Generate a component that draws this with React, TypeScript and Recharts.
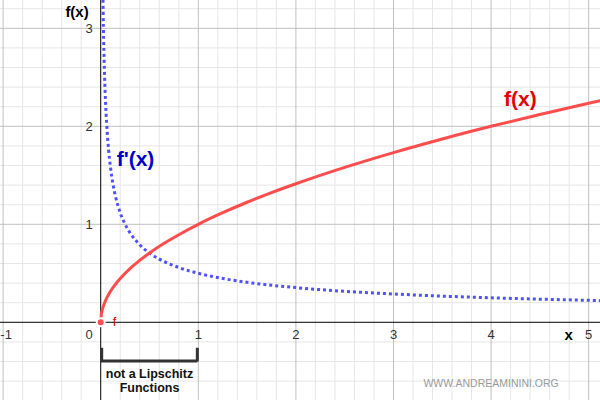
import React from 'react';
import { LineChart, Line, XAxis, YAxis, ReferenceLine, ReferenceDot, ReferenceArea } from 'recharts';

// f(x)
const fX = [0, 0.005, 0.01, 0.02, 0.04, 0.07, 0.1, 0.15, 0.2, 0.3, 0.4, 0.5, 0.65, 0.8, 1, 1.25, 1.5, 1.75, 2, 2.5, 3, 3.5, 4, 4.5, 5, 5.2];
const fY = [0, 0.071, 0.1, 0.141, 0.2, 0.265, 0.316, 0.387, 0.447, 0.548, 0.632, 0.707, 0.806, 0.894, 1, 1.118, 1.225, 1.323, 1.414, 1.581, 1.732, 1.871, 2, 2.121, 2.236, 2.28];

// f'(x)
const dX = [0.02, 0.025, 0.03, 0.035, 0.04, 0.05, 0.06, 0.07, 0.08, 0.1, 0.125, 0.15, 0.2, 0.25, 0.3, 0.4, 0.5, 0.6, 0.8, 1, 1.25, 1.5, 2, 2.5, 3, 3.5, 4, 4.5, 5, 5.2];
const dY = [3.536, 3.162, 2.887, 2.673, 2.5, 2.236, 2.041, 1.89, 1.768, 1.581, 1.414, 1.291, 1.118, 1.0, 0.913, 0.791, 0.707, 0.645, 0.559, 0.5, 0.447, 0.408, 0.354, 0.316, 0.289, 0.267, 0.25, 0.236, 0.224, 0.219];

const xTickLabels = [-1, 1, 2, 3, 4, 5];
const yTickLabels = [1, 2, 3];
const xDomain = [-1.032, 5.116];
const yDomain = [-0.793, 3.289];

const fData = fX.map((x, i) => ({ x, y: fY[i] }));
const dData = dX.map((x, i) => ({ x, y: dY[i] }));

const minorX: number[] = [];
for (let i = -5; i <= 26; i++) if (i % 5 !== 0) minorX.push(Math.round(i * 20) / 100);
const minorY: number[] = [];
for (let i = -4; i <= 17; i++) if (i % 5 !== 0) minorY.push(Math.round(i * 20) / 100);
const majorX = [-1, 1, 2, 3, 4, 5];
const majorY = [1, 2, 3];

const FONT = '"Liberation Sans", Arial, sans-serif';

type TOpts = { dx?: number; dy?: number; anchor?: 'start' | 'middle' | 'end'; size?: number; weight?: string | number; fill?: string };
const textLabel = (s: string, o: TOpts) => ({
  content: (p: any) => {
    const vb = p.viewBox || {};
    const cx = (vb.x ?? 0) + (vb.width ?? 0) / 2;
    const cy = (vb.y ?? 0) + (vb.height ?? 0) / 2;
    return (
      <text
        x={cx + (o.dx ?? 0)}
        y={cy + (o.dy ?? 0)}
        textAnchor={o.anchor ?? 'middle'}
        fontSize={o.size ?? 13}
        fontWeight={o.weight ?? 'normal'}
        fill={o.fill ?? '#333'}
        fontFamily={FONT}
      >
        {s}
      </text>
    );
  },
});

const TextAt = (x: number, y: number, s: string, o: TOpts, key: string) => (
  <ReferenceDot key={key} x={x} y={y} r={1} fill="none" stroke="none" ifOverflow="visible" label={textLabel(s, o)} />
);

export default function App() {
  return (
    <div style={{ position: 'absolute', left: 0, top: 0, width: 600, height: 400, background: '#fff', fontFamily: FONT }}>
      <LineChart width={600} height={400} margin={{ top: 0, right: 0, bottom: 0, left: 0 }}>
        <XAxis type="number" dataKey="x" domain={xDomain} allowDataOverflow hide />
        <YAxis type="number" dataKey="y" domain={yDomain} allowDataOverflow hide />
        {minorX.map((v) => (
          <ReferenceLine key={'mx' + v} x={v} stroke="#e6e6e6" strokeWidth={1} />
        ))}
        {minorY.map((v) => (
          <ReferenceLine key={'my' + v} y={v} stroke="#e6e6e6" strokeWidth={1} />
        ))}
        {majorX.map((v) => (
          <ReferenceLine key={'Mx' + v} x={v} stroke="#c0c0c0" strokeWidth={1} />
        ))}
        {majorY.map((v) => (
          <ReferenceLine key={'My' + v} y={v} stroke="#c0c0c0" strokeWidth={1} />
        ))}
        <ReferenceArea x1={0} x2={0.98} y1={-0.41} y2={-0.8} fill="#fff" fillOpacity={1} stroke="none" ifOverflow="hidden" />
        <ReferenceLine x={0} stroke="#000" strokeWidth={1} />
        <ReferenceLine y={0} stroke="#000" strokeWidth={1} />

        <Line data={dData} dataKey="y" type="monotone" stroke="#5050ff" strokeWidth={3} strokeDasharray="3 3" dot={false} isAnimationActive={false} />
        <Line data={fData} dataKey="y" type="monotone" stroke="#ff4d4d" strokeWidth={3} dot={false} isAnimationActive={false} />

        {/* bracket */}
        <ReferenceLine segment={[{ x: 0.01, y: -0.26 }, { x: 0.01, y: -0.4 }]} stroke="#333" strokeWidth={3} />
        <ReferenceLine segment={[{ x: 0, y: -0.395 }, { x: 0.99, y: -0.395 }]} stroke="#333" strokeWidth={3} />
        <ReferenceLine segment={[{ x: 0.99, y: -0.26 }, { x: 0.99, y: -0.4 }]} stroke="#333" strokeWidth={3} />

        {xTickLabels.map((v) => TextAt(v, 0, String(v), { dy: 17, dx: v === -1 ? 3 : 0 }, 'xt' + v))}
        {TextAt(0, 0, '0', { dy: 17, dx: -8, anchor: 'end' }, 'xt0')}
        {yTickLabels.map((v) => TextAt(0, v, String(v), { dy: 4.5, dx: -8, anchor: 'end' }, 'yt' + v))}

        {TextAt(0, 3.289, 'f(x)', { dx: -12, dy: 17, anchor: 'end', size: 15, weight: 'bold', fill: '#000' }, 'ylab')}
        {TextAt(5, 0, 'x', { dx: -20, dy: 18, anchor: 'middle', size: 15, weight: 'bold', fill: '#000' }, 'xlab')}
        {TextAt(0, 0, 'f', { dx: 12, dy: 4, anchor: 'start', size: 13, fill: '#e00000' }, 'fsmall')}
        {TextAt(0, 2, "f'(x)", { dx: 16, dy: 40, anchor: 'start', size: 21, weight: 'bold', fill: '#0000cc' }, 'dlab')}
        {TextAt(4, 2, 'f(x)', { dx: 13, dy: -20, anchor: 'start', size: 21, weight: 'bold', fill: '#e60000' }, 'flab')}
        {TextAt(0.5, 0, 'not a Lipschitz', { dx: 0, dy: 55.5, anchor: 'middle', size: 12.5, weight: 'bold', fill: '#111' }, 'b1')}
        {TextAt(0.5, 0, 'Functions', { dx: 0, dy: 70, anchor: 'middle', size: 12.5, weight: 'bold', fill: '#111' }, 'b2')}
        {TextAt(4, 0, 'WWW.ANDREAMININI.ORG', { dx: 0, dy: 65, anchor: 'middle', size: 10.5, fill: '#9a9a9a' }, 'wm')}
      </LineChart>
    </div>
  );
}
